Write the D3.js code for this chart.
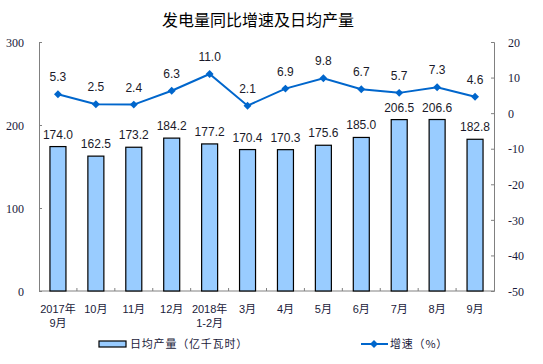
<!DOCTYPE html>
<html lang="zh">
<head>
<meta charset="utf-8">
<title>发电量同比增速及日均产量</title>
<script src="https://d3js.org/d3.v7.min.js"></script>
<style>
  body { margin: 0; background: #fff; }
  .axis text { font-family: "Liberation Serif", "Noto Sans CJK SC", serif; font-size: 12px; fill: #1a1a3a; }
  .axis path, .axis line { stroke: #808080; }
  .cat text { font-family: "Liberation Sans", "Noto Sans CJK SC", sans-serif; font-size: 11px; fill: #1a1a3a; }
</style>
</head>
<body>
<script>
// data
const months = [["2017年", "9月"], ["10月"], ["11月"], ["12月"], ["2018年", "1-2月"], ["3月"],
                ["4月"], ["5月"], ["6月"], ["7月"], ["8月"], ["9月"]];
const output = [174.0, 162.5, 173.2, 184.2, 177.2, 170.4, 170.3, 175.6, 185.0, 206.5, 206.6, 182.8];
const growth = [5.3, 2.5, 2.4, 6.3, 11.0, 2.1, 6.9, 9.8, 6.7, 5.7, 7.3, 4.6];
const leftTicks = [0, 100, 200, 300];
const rightTicks = [20, 10, 0, -10, -20, -30, -40, -50];

const width = 543, height = 364;
const plotL = 39, plotR = 494, plotT = 42, plotB = 291;

const svg = d3.select("body").append("svg")
    .attr("width", width).attr("height", height);

const idx = d3.range(months.length);
const x = d3.scaleBand().domain(idx).range([plotL, plotR]);
const yL = d3.scaleLinear().domain([0, 300]).range([plotB, plotT]);
const yR = d3.scaleLinear().domain([-50, 20]).range([plotB, plotT]);

// title
svg.append("text")
    .attr("x", 258).attr("y", 26)
    .attr("text-anchor", "middle")
    .attr("font-family", "Noto Sans CJK SC, sans-serif")
    .attr("font-size", "16px")
    .attr("fill", "#000")
    .text("发电量同比增速及日均产量");

// axes
svg.append("g").attr("class", "axis")
    .attr("transform", `translate(${plotL},0)`)
    .call(d3.axisLeft(yL).tickValues(leftTicks).tickFormat(d => String(d))
        .tickSizeInner(-3).tickSizeOuter(-3).tickPadding(15))
    .call(g => g.selectAll(".tick text").attr("dy", "0.35em"));

svg.append("g").attr("class", "axis")
    .attr("transform", `translate(${plotR},0)`)
    .call(d3.axisRight(yR).tickValues(rightTicks).tickFormat(d => String(d))
        .tickSizeInner(-3).tickSizeOuter(-3).tickPadding(14))
    .call(g => g.selectAll(".tick text").attr("dy", "0.35em"));

// bottom axis: line with inward ticks at category boundaries
const bx = svg.append("g").attr("class", "axis");
bx.append("line").attr("x1", plotL).attr("x2", plotR).attr("y1", plotB).attr("y2", plotB);
bx.selectAll(".sep").data(idx.slice(1)).enter().append("line")
    .attr("x1", d => x(d)).attr("x2", d => x(d))
    .attr("y1", plotB).attr("y2", plotB - 3);

// category labels
const cat = svg.append("g").attr("class", "cat");
cat.selectAll("text").data(idx).enter().append("text")
    .attr("text-anchor", "middle")
    .attr("x", d => x(d) + x.bandwidth() / 2)
    .attr("y", 313)
    .each(function (d) {
        const t = d3.select(this);
        months[d].forEach((s, i) => {
            t.append("tspan").attr("x", x(d) + x.bandwidth() / 2)
                .attr("dy", i === 0 ? 0 : 14).text(s);
        });
    });

// bars
const bw = 16;
svg.selectAll(".bar").data(idx).enter().append("rect")
    .attr("class", "bar")
    .attr("x", d => x(d) + x.bandwidth() / 2 - bw / 2)
    .attr("y", d => yL(output[d]))
    .attr("width", bw)
    .attr("height", d => plotB - yL(output[d]))
    .attr("fill", "#99ccff")
    .attr("stroke", "#000")
    .attr("stroke-width", 1.2);

svg.selectAll(".blab").data(idx).enter().append("text")
    .attr("x", d => x(d) + x.bandwidth() / 2)
    .attr("y", d => yL(output[d]) - 8)
    .attr("text-anchor", "middle")
    .attr("font-family", "Liberation Sans, Arial, sans-serif")
    .attr("font-size", "12px")
    .attr("fill", "#1a1a2a")
    .text(d => output[d].toFixed(1));

// line
const line = d3.line()
    .x(d => x(d) + x.bandwidth() / 2)
    .y(d => yR(growth[d]));
svg.append("path").datum(idx)
    .attr("d", line)
    .attr("fill", "none")
    .attr("stroke", "#0066cc")
    .attr("stroke-width", 2);

const diamond = d3.symbol().type(d3.symbolDiamond2).size(40);
svg.selectAll(".pt").data(idx).enter().append("path")
    .attr("d", diamond)
    .attr("transform", d => `translate(${x(d) + x.bandwidth() / 2},${yR(growth[d])})`)
    .attr("fill", "#0066cc");

svg.selectAll(".llab").data(idx).enter().append("text")
    .attr("x", d => x(d) + x.bandwidth() / 2)
    .attr("y", d => yR(growth[d]) - 13)
    .attr("text-anchor", "middle")
    .attr("font-family", "Liberation Sans, Arial, sans-serif")
    .attr("font-size", "12px")
    .attr("fill", "#1a1a2a")
    .text(d => growth[d].toFixed(1));

// legend
const lg = svg.append("g")
    .attr("font-family", "Noto Sans CJK SC, sans-serif")
    .attr("font-size", "11px")
    .attr("fill", "#1a1a3a");
lg.append("rect").attr("x", 99).attr("y", 341).attr("width", 27).attr("height", 6)
    .attr("fill", "#99ccff").attr("stroke", "#000").attr("stroke-width", 1.2);
lg.append("text").attr("x", 130).attr("y", 348).attr("letter-spacing", "0.8px")
    .text("日均产量（亿千瓦时）");
lg.append("line").attr("x1", 361).attr("x2", 388).attr("y1", 344).attr("y2", 344)
    .attr("stroke", "#0066cc").attr("stroke-width", 2);
lg.append("path").attr("d", diamond).attr("transform", "translate(374,344)").attr("fill", "#0066cc");
lg.append("text").attr("x", 390).attr("y", 348).attr("letter-spacing", "0.8px")
    .text("增速（%）");
</script>
</body>
</html>
